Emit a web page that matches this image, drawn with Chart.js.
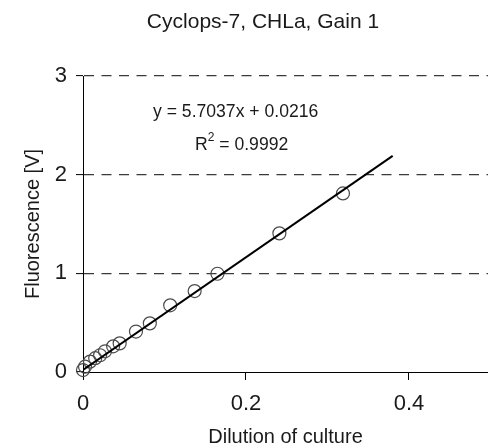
<!DOCTYPE html>
<html>
<head>
<meta charset="utf-8">
<script src="https://cdn.jsdelivr.net/npm/chart.js@4.4.1/dist/chart.umd.min.js"></script>
<style>
  html, body { margin: 0; padding: 0; background: #fff; }
  #wrap { width: 488px; height: 446px; position: relative; }
</style>
</head>
<body>
<div id="wrap"><canvas id="chart"></canvas></div>
<script>
// Measured points (dilution vs fluorescence)
const dilution = [0, 0.0025, 0.0086, 0.015, 0.021, 0.027, 0.037, 0.045, 0.065, 0.082, 0.107, 0.137, 0.165, 0.241, 0.319];
const fluorescence = [0.02, 0.054, 0.105, 0.14, 0.17, 0.21, 0.26, 0.29, 0.41, 0.493, 0.676, 0.82, 0.996, 1.405, 1.81];

// Regression line end points
const fitX = [0, 0.38];
const fitY = [0.02, 2.19];

const xTicks = [0, 0.2, 0.4];
const yTicks = [0, 1, 2, 3];

const chartTitle = 'Cyclops-7, CHLa, Gain 1';
const equation = 'y = 5.7037x + 0.0216';
const rSquared = '0.9992';

const textColor = '#1a1a1a';
const font = 'Liberation Sans, Arial, sans-serif';

// draws the title and the fit equation
const textPlugin = {
  id: 'texts',
  afterDraw(chart) {
    const ctx = chart.ctx;
    ctx.save();
    ctx.fillStyle = textColor;
    ctx.textBaseline = 'alphabetic';
    ctx.font = '21px ' + font;
    ctx.textAlign = 'center';
    ctx.fillText(chartTitle, 263, 28);

    ctx.textAlign = 'left';
    ctx.font = '17.6px ' + font;
    ctx.fillText(equation, 153, 117);
    let x = 195;
    ctx.fillText('R', x, 150);
    x += ctx.measureText('R').width;
    ctx.font = '12px ' + font;
    ctx.fillText('2', x, 141);
    x += ctx.measureText('2').width;
    ctx.font = '17.6px ' + font;
    ctx.fillText(' = ' + rSquared, x, 150);
    ctx.restore();
  }
};

new Chart(document.getElementById('chart'), {
  type: 'scatter',
  data: {
    datasets: [
      {
        type: 'line',
        data: fitX.map((v, i) => ({ x: v, y: fitY[i] })),
        borderColor: '#000',
        borderWidth: 2,
        pointRadius: 0,
        fill: false
      },
      {
        data: dilution.map((v, i) => ({ x: v, y: fluorescence[i] })),
        pointStyle: 'circle',
        pointRadius: 6.5,
        pointBorderWidth: 1.2,
        pointBorderColor: '#4a4a4a',
        pointBackgroundColor: 'rgba(255,255,255,0)',
        showLine: false,
        clip: false
      }
    ]
  },
  options: {
    responsive: true,
    maintainAspectRatio: false,
    animation: false,
    layout: { autoPadding: false, padding: { top: 76, left: 0, right: 0, bottom: 0 } },
    plugins: {
      legend: { display: false },
      tooltip: { enabled: false }
    },
    scales: {
      x: {
        type: 'linear',
        min: 0,
        max: 0.497,
        afterBuildTicks: (scale) => { scale.ticks = xTicks.map(v => ({ value: v })); },
        afterFit: (scale) => { scale.height = 74; scale.paddingRight = 0; },
        grid: { drawOnChartArea: false, drawTicks: true, tickLength: 8, tickColor: '#000', tickWidth: 1 },
        border: { display: true, color: '#000', width: 1 },
        ticks: { color: textColor, font: { size: 22, family: font }, padding: 11 },
        title: {
          display: true,
          text: 'Dilution of culture',
          color: textColor,
          font: { size: 20, family: font, lineHeight: 1 },
          padding: { top: 0, bottom: -1 }
        }
      },
      y: {
        min: 0,
        max: 3,
        afterBuildTicks: (scale) => { scale.ticks = yTicks.map(v => ({ value: v })); },
        afterFit: (scale) => { scale.width = 83; },
        grid: {
          color: (c) => (c.tick && c.tick.value === 0 ? 'rgba(0,0,0,0)' : '#3a3a3a'),
          lineWidth: 1.2,
          drawTicks: true,
          tickLength: 7,
          tickColor: '#000',
          tickWidth: 1
        },
        border: { display: true, color: '#000', width: 1, dash: [10, 7.5] },
        ticks: { color: textColor, font: { size: 22, family: font }, padding: 9 },
        title: {
          display: true,
          text: 'Fluorescence [V]',
          color: textColor,
          font: { size: 20, family: font },
          padding: { top: 21, bottom: 0 }
        }
      }
    }
  },
  plugins: [textPlugin]
});
</script>
</body>
</html>
